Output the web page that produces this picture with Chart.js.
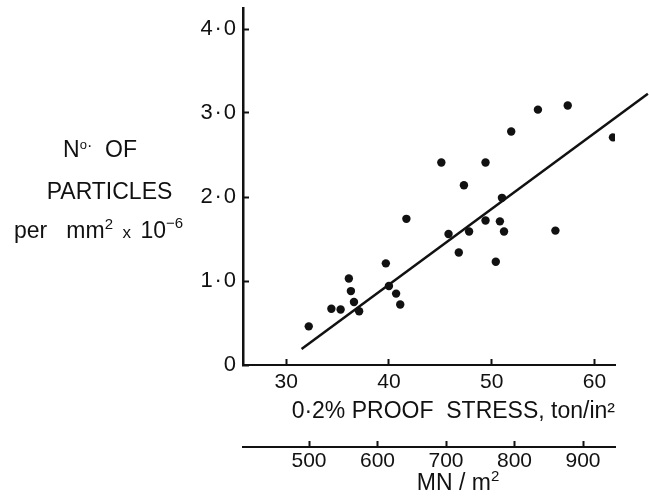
<!DOCTYPE html>
<html>
<head>
<meta charset="utf-8">
<script src="https://cdn.jsdelivr.net/npm/chart.js@4.4.0/dist/chart.umd.min.js"></script>
<style>
  html, body { margin: 0; padding: 0; background: #fff; }
</style>
</head>
<body>
<canvas id="stressChart" width="649" height="496"></canvas>
<script>
// proof stress (ton/in2) and particle count
var stress    = [32.2, 34.4, 35.3, 36.1, 36.3, 36.6, 37.1, 39.7, 40.0, 40.7, 41.1, 41.7, 45.1, 45.8,
                 46.8, 47.3, 47.8, 49.4, 49.4, 50.4, 50.8, 51.0, 51.2, 51.9, 54.5, 56.2, 57.4, 61.8];
var particles = [0.46, 0.67, 0.66, 1.03, 0.88, 0.75, 0.64, 1.21, 0.94, 0.85, 0.72, 1.74, 2.41, 1.56,
                 1.34, 2.14, 1.59, 1.72, 2.41, 1.23, 1.71, 1.99, 1.59, 2.78, 3.04, 1.60, 3.09, 2.71];

// the drawn regression line (runs off the right edge)
var fitStress    = [31.5, 65.2];
var fitParticles = [0.19, 3.23];

var stressTicks = [30, 40, 50, 60];
var mnTicks     = [500, 600, 700, 800, 900];
var countTicks  = [0, 1, 2, 3, 4];

var black = '#111';
var fontName = "'Liberation Sans', Arial, sans-serif";
var dot = '\u200a\u00b7\u200a';
Chart.defaults.font.family = fontName;
Chart.defaults.color = black;

var toPoints = (xs, ys) => xs.map((v, i) => ({ x: v, y: ys[i] }));
var useTicks = (list) => (scale) => { scale.ticks = list.map((v) => ({ value: v })); };

// only the tick marks, pointing inwards (negative length), no grid in the plot
var inwardTicks = {
  display: true,
  drawOnChartArea: false,
  drawTicks: true,
  tickLength: -6,
  tickWidth: 2,
  tickColor: black
};

// text with small raised bits (superscripts), centred on cx
function richText(ctx, parts, cx, base) {
  var w = 0;
  parts.forEach(function(p) {
    ctx.font = p[1] + 'px ' + fontName;
    w += ctx.measureText(p[0]).width;
  });
  var x = cx - w / 2;
  parts.forEach(function(p) {
    ctx.font = p[1] + 'px ' + fontName;
    ctx.fillText(p[0], x, base - (p[2] || 0));
    x += ctx.measureText(p[0]).width;
  });
}

// horizontal y title and the MN/m2 caption
var sideLabels = {
  id: 'sideLabels',
  afterDraw: function(chart) {
    var ctx = chart.ctx;
    ctx.save();
    ctx.fillStyle = black;
    ctx.textBaseline = 'alphabetic';
    ctx.textAlign = 'left';
    richText(ctx, [['N', 23], ['o', 13, 8], ['\u00b7', 16, 6], ['  OF', 23]], 100, 156.5);
    richText(ctx, [['PARTICLES', 23]], 109.5, 198.5);
    richText(ctx, [['per   mm', 23], ['2', 15, 9], ['  x  ', 17], ['10', 23], ['\u22126', 15, 10]], 98.5, 238);
    richText(ctx, [['MN / m', 23], ['2', 15, 9]], 458, 490);
    ctx.restore();
  }
};

new Chart(document.getElementById('stressChart'), {
  type: 'scatter',
  data: {
    datasets: [
      {
        label: 'samples',
        data: toPoints(stress, particles),
        pointRadius: 4.2,
        pointHoverRadius: 4.2,
        pointBackgroundColor: black,
        pointBorderWidth: 0
      },
      {
        type: 'line',
        label: 'fit',
        data: toPoints(fitStress, fitParticles),
        borderColor: black,
        borderWidth: 2.5,
        pointRadius: 0,
        fill: false,
        clip: false
      }
    ]
  },
  options: {
    responsive: false,
    animation: false,
    devicePixelRatio: 1,
    layout: { padding: { top: 8, right: 34, left: 0, bottom: 0 } },
    plugins: { legend: { display: false }, tooltip: { enabled: false } },
    scales: {
      x: {
        type: 'linear',
        position: 'bottom',
        weight: 0,
        min: 25.8,
        max: 62,
        afterBuildTicks: useTicks(stressTicks),
        afterFit: (s) => { s.height = 82; s.paddingLeft = 0; s.paddingRight = 0; },
        grid: inwardTicks,
        border: { display: true, color: black, width: 2 },
        ticks: { padding: 11, font: { size: 21 }, callback: (v) => String(v) },
        title: {
          display: true,
          text: '0\u00b72% PROOF  STRESS, ton/in\u00b2',
          align: 'end',
          font: { size: 23 },
          padding: { top: 0, bottom: 22 }
        }
      },
      x2: {
        type: 'linear',
        position: 'bottom',
        weight: 1,
        min: 403.6,
        max: 946.7,
        afterBuildTicks: useTicks(mnTicks),
        afterFit: (s) => { s.height = 49; s.paddingLeft = 0; s.paddingRight = 0; },
        grid: inwardTicks,
        border: { display: true, color: black, width: 2 },
        ticks: { padding: 8, font: { size: 21 }, callback: (v) => String(v) }
      },
      y: {
        type: 'linear',
        min: 0,
        max: 4.25,
        afterBuildTicks: useTicks(countTicks),
        afterFit: (s) => { s.width = 243; s.paddingTop = 0; s.paddingBottom = 0; },
        grid: inwardTicks,
        border: { display: true, color: black, width: 2.5 },
        ticks: {
          padding: 13,
          font: { size: 22 },
          callback: (v) => v === 0 ? '0' : v.toFixed(1).replace('.', dot)
        }
      }
    }
  },
  plugins: [sideLabels]
});
</script>
</body>
</html>
